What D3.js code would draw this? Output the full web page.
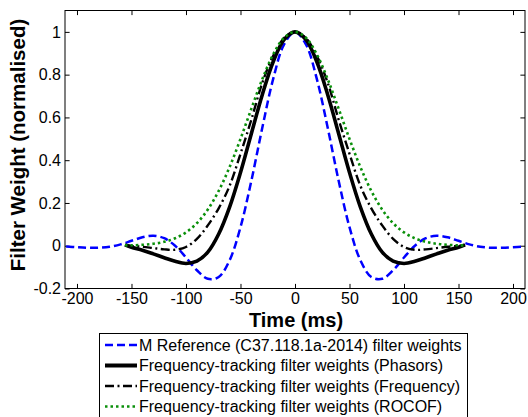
<!DOCTYPE html>
<html>
<head>
<meta charset="utf-8">
<script src="https://cdn.jsdelivr.net/npm/d3@7"></script>
<style>
body{margin:0;background:#fff;}
svg{display:block;font-family:"Liberation Sans",Arial,sans-serif;}
</style>
</head>
<body>
<svg id="chart" width="528" height="417"></svg>
<script>
// time axes (ms)
var tRef=[-210,-200,-190,-180,-170,-160,-150,-140,-130,-120,-110,-100,-90,-80,-70,-60,-50,-40,-30,-20,-10,0,10,20,30,40,50,60,70,80,90,100,110,120,130,140,150,160,170,180,190,200,210];
var tTrack=[-156,-150,-140,-130,-120,-110,-100,-90,-80,-70,-60,-50,-40,-30,-20,-10,0,10,20,30,40,50,60,70,80,90,100,110,120,130,140,150,156];

// M reference (C37.118.1a-2014)
var refWeights=[-0.0036,-0.0070,-0.0095,-0.0096,-0.0048,0.0065,0.0230,0.0393,0.0465,0.0351,0,-0.0550,-0.1147,-0.1545,-0.1462,-0.0682,0.0867,0.3048,0.5518,0.7802,0.9417,1,0.9417,0.7802,0.5518,0.3048,0.0867,-0.0682,-0.1462,-0.1545,-0.1147,-0.0550,0,0.0351,0.0465,0.0393,0.0230,0.0065,-0.0048,-0.0096,-0.0095,-0.0070,-0.0036];
// frequency-tracking filters
var phasorWeights=[0.004,-0.007,-0.021,-0.038,-0.056,-0.073,-0.083,-0.072,-0.030,0.0548,0.1806,0.3424,0.5253,0.7063,0.8602,0.9638,1,0.9638,0.8602,0.7063,0.5253,0.3424,0.1806,0.0548,-0.030,-0.072,-0.083,-0.073,-0.056,-0.038,-0.021,-0.007,0.004];
var freqWeights=[0.002,-0.001,-0.005,-0.011,-0.017,-0.019,-0.006,0.032,0.095,0.175,0.28,0.43,0.59,0.762,0.888,0.971,1,0.971,0.888,0.762,0.59,0.43,0.28,0.175,0.095,0.032,-0.006,-0.019,-0.017,-0.011,-0.005,-0.001,0.002];
var rocofWeights=[0.002,0.0019,0.0043,0.0091,0.0183,0.0347,0.0622,0.1054,0.1690,0.2564,0.3679,0.4994,0.6412,0.7788,0.8948,0.9726,1,0.9726,0.8948,0.7788,0.6412,0.4994,0.3679,0.2564,0.1690,0.1054,0.0622,0.0347,0.0183,0.0091,0.0043,0.0019,0.002];

var xTicks=[-200,-150,-100,-50,0,50,100,150,200];
var yTicks=[-0.2,0,0.2,0.4,0.6,0.8,1];
var legendLabels=["M Reference (C37.118.1a-2014) filter weights","Frequency-tracking filter weights (Phasors)","Frequency-tracking filter weights (Frequency)","Frequency-tracking filter weights (ROCOF)"];

var PLOTLEFT=65,PLOTRIGHT=525,PLOTTOP=10.5,PLOTBOTTOM=288.5;
var TICKLEN=4.6;
var svg=d3.select("#chart");

var x=d3.scaleLinear().domain([-211,211]).range([PLOTLEFT,PLOTRIGHT]);
var y=d3.scaleLinear().domain([-0.2,1.1]).range([PLOTBOTTOM,PLOTTOP]);

var series=[
	{t:tRef,v:refWeights,color:"#0000ff",width:2.5,dash:"8,4"},
	{t:tTrack,v:phasorWeights,color:"#000",width:3.6,dash:null},
	{t:tTrack,v:freqWeights,color:"#000",width:2.4,dash:"9,3.5,2,3.5"},
	{t:tTrack,v:rocofWeights,color:"#0a900a",width:2.6,dash:"2.5,3"}
];

svg.append("rect").attr("width",528).attr("height",417).attr("fill","#fff");

drawAxes();
drawCurves();
drawLabels();
drawLegend();

function drawAxes(){
	var fmtY=function(d){return String(+d.toFixed(1));};
	var gb=svg.append("g").attr("transform","translate(0,"+PLOTBOTTOM+")")
		.call(d3.axisBottom(x).tickValues(xTicks).tickFormat(function(d){return String(d);}).tickSize(-TICKLEN).tickPadding(4));
	var gt=svg.append("g").attr("transform","translate(0,"+PLOTTOP+")")
		.call(d3.axisTop(x).tickValues(xTicks).tickFormat("").tickSize(-TICKLEN));
	var gl=svg.append("g").attr("transform","translate("+PLOTLEFT+",0)")
		.call(d3.axisLeft(y).tickValues(yTicks).tickFormat(fmtY).tickSize(-TICKLEN).tickPadding(4));
	var gr=svg.append("g").attr("transform","translate("+PLOTRIGHT+",0)")
		.call(d3.axisRight(y).tickValues(yTicks).tickFormat("").tickSize(-TICKLEN));
	[gb,gt,gl,gr].forEach(function(g){
		g.select(".domain").remove();
		g.selectAll("line").attr("stroke","#000");
		g.selectAll("text").attr("fill","#000").style("font-size","16px").style("font-family","'Liberation Sans',Arial,sans-serif");
	});
	svg.append("rect")
		.attr("x",PLOTLEFT).attr("y",PLOTTOP)
		.attr("width",PLOTRIGHT-PLOTLEFT).attr("height",PLOTBOTTOM-PLOTTOP)
		.attr("fill","none").attr("stroke","#000").attr("stroke-width",1);
}

function drawCurves(){
	svg.append("clipPath").attr("id","plotClip")
		.append("rect").attr("x",PLOTLEFT).attr("y",PLOTTOP)
		.attr("width",PLOTRIGHT-PLOTLEFT).attr("height",PLOTBOTTOM-PLOTTOP);
	var g=svg.append("g").attr("clip-path","url(#plotClip)");
	series.forEach(function(s){
		var pts=s.t.map(function(t,i){return [t,s.v[i]];});
		var line=d3.line()
			.x(function(d){return x(d[0]);})
			.y(function(d){return y(d[1]);})
			.curve(d3.curveCatmullRom.alpha(0.5));
		g.append("path")
			.attr("d",line(pts))
			.attr("fill","none")
			.attr("stroke",s.color)
			.attr("stroke-width",s.width)
			.attr("stroke-dasharray",s.dash)
			.attr("stroke-linejoin","round");
	});
}

function drawLabels(){
	svg.append("text")
		.text("Time (ms)")
		.attr("x",296).attr("y",327)
		.attr("text-anchor","middle")
		.style("font-size","20px").style("font-weight","bold");
	svg.append("text")
		.text("Filter Weight (normalised)")
		.attr("transform","translate(25,145) rotate(-90)")
		.attr("text-anchor","middle")
		.style("font-size","20.5px").style("font-weight","bold");
}

function drawLegend(){
	svg.append("rect")
		.attr("x",99.5).attr("y",333.5)
		.attr("width",368).attr("height",90)
		.attr("fill","#fff").attr("stroke","#000").attr("stroke-width",1);
	var rowY=[345,365.5,386,406.5];
	for(var i=0;i<legendLabels.length;i++){
		var s=series[i];
		svg.append("line")
			.attr("x1",105).attr("x2",137)
			.attr("y1",rowY[i]).attr("y2",rowY[i])
			.attr("stroke",s.color)
			.attr("stroke-width",i==1?4:s.width)
			.attr("stroke-dasharray",s.dash);
		svg.append("text")
			.text(legendLabels[i])
			.attr("x",139).attr("y",rowY[i])
			.attr("dy","0.35em")
			.style("font-size","16px");
	}
}
</script>
</body>
</html>
